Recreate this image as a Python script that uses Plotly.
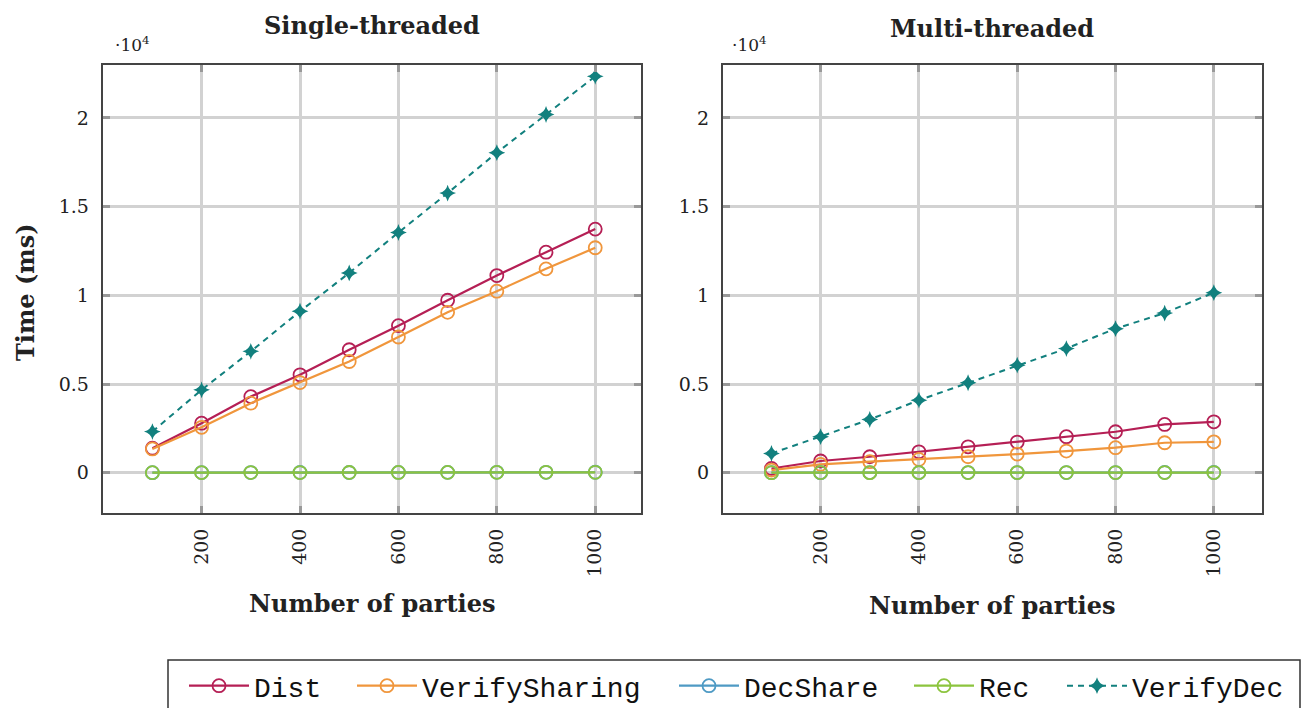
import plotly.graph_objects as go

parties = [100, 200, 300, 400, 500, 600, 700, 800, 900, 1000]

# Single-threaded (ms)
st_dist = [1380, 2790, 4290, 5520, 6930, 8290, 9720, 11110, 12430, 13730]
st_verifysharing = [1340, 2560, 3920, 5080, 6270, 7650, 9040, 10230, 11490, 12680]
st_decshare = [4, 7, 9, 12, 14, 17, 19, 22, 24, 27]
st_rec = [3, 5, 8, 10, 12, 15, 17, 20, 22, 25]
st_verifydec = [2320, 4670, 6840, 9100, 11260, 13540, 15760, 18040, 20190, 22340]

# Multi-threaded (ms)
mt_dist = [240, 660, 900, 1180, 1460, 1730, 2030, 2310, 2720, 2870]
mt_verifysharing = [150, 470, 620, 750, 900, 1050, 1220, 1410, 1690, 1740]
mt_decshare = [3, 4, 5, 6, 8, 9, 10, 11, 12, 14]
mt_rec = [2, 3, 4, 5, 6, 7, 8, 9, 10, 11]
mt_verifydec = [1090, 2030, 3000, 4090, 5070, 6060, 7000, 8120, 9000, 10150]

series_names = ["Dist", "VerifySharing", "DecShare", "Rec", "VerifyDec"]
colors = ["#B51F55", "#F0963C", "#4E9AC4", "#8CC43E", "#12807E"]
legend_ids = ["legend", "legend2", "legend3", "legend4", "legend5"]

y_tickvals = [0, 5000, 10000, 15000, 20000]
y_ticktext = ["0", "0.5", "1", "1.5", "2"]
x_tickvals = [200, 400, 600, 800, 1000]

# page body has an 8px margin; figure sized to fit the window exactly
OFF = 8
W, H = 1309 - 2 * OFF, 716 - 2 * OFF


def px(xs):
    return (xs - OFF) / W


def py(ys):
    return 1 - (ys - OFF) / H


legend_x_screen = [184, 352, 674, 909, 1062]

fig = go.Figure()

panels = [
    ("x", "y", [st_dist, st_verifysharing, st_decshare, st_rec, st_verifydec], True),
    ("x2", "y2", [mt_dist, mt_verifysharing, mt_decshare, mt_rec, mt_verifydec], False),
]
for xa, ya, data, show in panels:
    for i, (name, vals) in enumerate(zip(series_names, data)):
        if name == "VerifyDec":
            line = dict(color=colors[i], width=2, dash="6px,5px")
            marker = dict(symbol="star-diamond", size=12, color=colors[i],
                          line=dict(width=0))
        else:
            line = dict(color=colors[i], width=2.2)
            marker = dict(symbol="circle-open", size=13, color=colors[i],
                          line=dict(width=1.8, color=colors[i]))
        fig.add_trace(go.Scatter(
            x=parties, y=vals, name=name, mode="lines+markers",
            line=line, marker=marker, xaxis=xa, yaxis=ya,
            showlegend=show, legendgroup=name, legend=legend_ids[i]))

tick_font = dict(family="DejaVu Serif", size=19, color="#222")
common_x = dict(
    tickvals=x_tickvals, tickangle=-90, tickfont=tick_font,
    showgrid=True, gridcolor="#d2d2d2", gridwidth=3,
    showline=True, linecolor="#444", linewidth=2, mirror="ticks",
    ticks="inside", ticklen=7, tickcolor="#999", tickwidth=3,
    zeroline=False, ticklabelstandoff=6, automargin=False,
)
common_y = dict(
    tickvals=y_tickvals, ticktext=y_ticktext, tickfont=tick_font,
    range=[-2270, 22980],
    showgrid=True, gridcolor="#d2d2d2", gridwidth=3,
    showline=True, linecolor="#444", linewidth=2, mirror="ticks",
    ticks="inside", ticklen=7, tickcolor="#999", tickwidth=3,
    zeroline=False, ticklabelstandoff=8, automargin=False,
)

layout = dict(
    width=W, height=H,
    margin=dict(l=0, r=0, t=0, b=0, autoexpand=False),
    paper_bgcolor="white", plot_bgcolor="white",
    xaxis=dict(domain=[px(102.7), px(641)], range=[-1, 1093], anchor="y", **common_x),
    yaxis=dict(domain=[py(513), py(65)], anchor="x", **common_y),
    xaxis2=dict(domain=[px(722.8), px(1262)], range=[1, 1098], anchor="y2", **common_x),
    yaxis2=dict(domain=[py(513), py(65)], anchor="x2", **common_y),
)
for lid, lx in zip(legend_ids, legend_x_screen):
    layout[lid] = dict(
        orientation="h", x=px(lx), y=py(686), xanchor="left", yanchor="middle",
        font=dict(family="Liberation Mono", size=28, color="#111"),
        borderwidth=0, bgcolor="rgba(0,0,0,0)", itemwidth=60,
    )
fig.update_layout(**layout)

# legend frame
fig.add_shape(type="rect", xref="paper", yref="paper",
              x0=px(168), x1=px(1300), y0=py(710), y1=py(660),
              line=dict(color="#333", width=1.5), fillcolor="rgba(0,0,0,0)", layer="below")

annots = [
    dict(text="<b>Single-threaded</b>", x=px(372), y=py(26)),
    dict(text="<b>Multi-threaded</b>", x=px(992), y=py(28)),
    dict(text="<b>Number of parties</b>", x=px(372), y=py(603)),
    dict(text="<b>Number of parties</b>", x=px(992), y=py(605)),
]
for a in annots:
    fig.add_annotation(xref="paper", yref="paper", showarrow=False,
                       xanchor="center", yanchor="middle",
                       font=dict(family="DejaVu Serif", size=24, color="#222"), **a)
fig.add_annotation(xref="paper", yref="paper", showarrow=False, text="<b>Time (ms)</b>",
                   x=px(25), y=py(292), textangle=-90, xanchor="center", yanchor="middle",
                   font=dict(family="DejaVu Serif", size=24, color="#222"))
for xp in (113, 730):
    fig.add_annotation(xref="paper", yref="paper", showarrow=False,
                       text="·10<sup>4</sup>", x=px(xp), y=py(44),
                       xanchor="left", yanchor="middle",
                       font=dict(family="DejaVu Serif", size=17, color="#222"))

fig.write_html("out.html")
